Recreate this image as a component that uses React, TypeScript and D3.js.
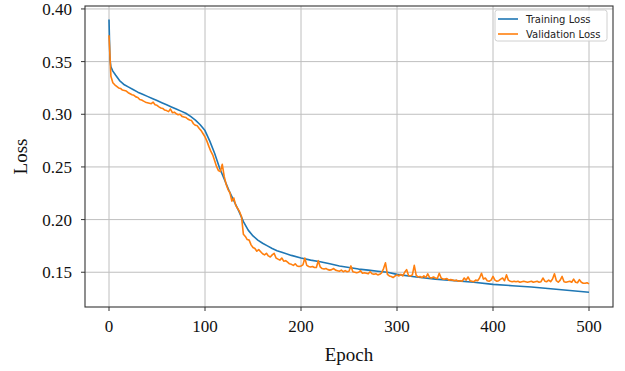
import React from 'react';
import * as d3 from 'd3';

// training loss
const trainEpochs = [0, 1, 2, 4, 7, 11, 16, 20, 25, 30, 35, 40, 45, 50, 55, 60, 65, 70, 75, 80, 85, 90, 95, 100,
  105, 110, 115, 120, 125, 130, 135, 140, 145, 150, 155, 160, 165, 170, 175, 180, 190, 200, 210, 220, 230, 240,
  250, 260, 270, 280, 290, 300, 320, 340, 360, 380, 400, 420, 440, 460, 480, 500];
const trainLoss = [0.390, 0.352, 0.345, 0.341, 0.337, 0.332, 0.328, 0.326, 0.3235, 0.321, 0.319, 0.317, 0.315,
  0.313, 0.311, 0.309, 0.307, 0.305, 0.303, 0.301, 0.298, 0.2945, 0.290, 0.2845, 0.2745, 0.263, 0.2495, 0.2385,
  0.2275, 0.218, 0.2085, 0.198, 0.190, 0.1845, 0.1805, 0.1775, 0.175, 0.1725, 0.1705, 0.169, 0.166, 0.1635,
  0.1615, 0.160, 0.158, 0.156, 0.1545, 0.153, 0.152, 0.151, 0.150, 0.148, 0.1455, 0.1435, 0.142, 0.1405,
  0.1385, 0.1372, 0.136, 0.1343, 0.1327, 0.131];

// validation loss, one value every 2 epochs (0..500)
const valStep = 2;
const valLoss = [
  0.375, 0.336, 0.330, 0.328, 0.3265, 0.325, 0.3245, 0.323, 0.3225, 0.322,
  0.3205, 0.3195, 0.3185, 0.318, 0.3165, 0.316, 0.314, 0.3135, 0.3125, 0.3115,
  0.311, 0.3105, 0.310, 0.3115, 0.309, 0.3085, 0.307, 0.306, 0.3055, 0.304,
  0.3035, 0.3025, 0.305, 0.3015, 0.302, 0.3005, 0.2995, 0.300, 0.298, 0.2975,
  0.297, 0.2955, 0.2945, 0.294, 0.291, 0.2895, 0.289, 0.2865, 0.2845, 0.2815,
  0.2785, 0.2745, 0.2695, 0.265, 0.2615, 0.256, 0.2505, 0.2465, 0.2455, 0.2525,
  0.241, 0.2335, 0.2285, 0.2255, 0.2175, 0.2205, 0.2135, 0.2105, 0.2075, 0.203,
  0.186, 0.184, 0.181, 0.1805, 0.176, 0.1735, 0.1725, 0.170, 0.1715, 0.1695,
  0.1675, 0.1665, 0.168, 0.1655, 0.1645, 0.1665, 0.168, 0.1635, 0.1625, 0.1615,
  0.1635, 0.1605, 0.161, 0.1595, 0.158, 0.1575, 0.1565, 0.158, 0.156, 0.1555,
  0.156, 0.157, 0.1635, 0.1565, 0.1555, 0.155, 0.1555, 0.1545, 0.1545, 0.161,
  0.155, 0.1535, 0.153, 0.1535, 0.1525, 0.152, 0.1525, 0.1535, 0.152, 0.1515,
  0.151, 0.152, 0.1505, 0.1515, 0.1505, 0.151, 0.156, 0.1505, 0.150, 0.1495,
  0.150, 0.1515, 0.149, 0.1495, 0.149, 0.1485, 0.1505, 0.1485, 0.148, 0.1485,
  0.1475, 0.148, 0.1495, 0.1535, 0.159, 0.148, 0.1465, 0.146, 0.145, 0.1465,
  0.1475, 0.1465, 0.148, 0.1465, 0.150, 0.1525, 0.147, 0.1465, 0.1475, 0.1565,
  0.147, 0.1455, 0.146, 0.145, 0.1465, 0.145, 0.1485, 0.145, 0.1445, 0.1455,
  0.1445, 0.144, 0.149, 0.1445, 0.1435, 0.1435, 0.144, 0.1425, 0.143, 0.1425,
  0.142, 0.1425, 0.1415, 0.142, 0.1415, 0.1445, 0.1425, 0.1455, 0.142, 0.1415,
  0.141, 0.1425, 0.142, 0.1445, 0.149, 0.1435, 0.1445, 0.142, 0.1415, 0.1425,
  0.146, 0.1425, 0.1415, 0.142, 0.1435, 0.1445, 0.142, 0.1475, 0.1425, 0.1415,
  0.141, 0.1415, 0.141, 0.1415, 0.1405, 0.141, 0.1415, 0.141, 0.1405, 0.141,
  0.1415, 0.1405, 0.141, 0.1415, 0.1405, 0.141, 0.1445, 0.1415, 0.141, 0.1425,
  0.141, 0.1435, 0.1485, 0.142, 0.1405, 0.1425, 0.146, 0.141, 0.1405, 0.141,
  0.1415, 0.1405, 0.1435, 0.1405, 0.140, 0.143, 0.1405, 0.1395, 0.1395, 0.140,
  0.139,
];

const xTicks = [0, 100, 200, 300, 400, 500];
const yTicks = [0.15, 0.20, 0.25, 0.30, 0.35, 0.40];
const seriesNames = ['Training Loss', 'Validation Loss'];
const colors = ['#1f77b4', '#ff7f0e'];

const W = 625;
const H = 371;
const left = 85, right = 613, top = 6, bottom = 307;
const serif = '"Liberation Serif", "Times New Roman", serif';
const sans = '"DejaVu Sans", sans-serif';

export default function App() {
  const x = d3.scaleLinear().domain([-25, 525]).range([left, right]);
  const y = d3.scaleLinear().domain([0.117, 0.4028]).range([bottom, top]);

  const line = d3.line<[number, number]>()
    .x((d) => x(d[0]))
    .y((d) => y(d[1]));

  const train: [number, number][] = trainEpochs.map((e, i) => [e, trainLoss[i]]);
  const val: [number, number][] = valLoss.map((v, i) => [i * valStep, v]);

  const fmt = d3.format('.2f');

  return (
    <svg width={W} height={H} style={{ position: 'absolute', left: 0, top: 0, background: '#fff' }}>
      <rect x={0} y={0} width={W} height={H} fill="#fff" />
      <defs>
        <clipPath id="plot">
          <rect x={left} y={top} width={right - left} height={bottom - top} />
        </clipPath>
      </defs>

      {/* grid */}
      <g stroke="#b0b0b0" strokeWidth={1} opacity={0.8}>
        {xTicks.map((t) => (
          <line key={'gx' + t} x1={x(t)} x2={x(t)} y1={top} y2={bottom} />
        ))}
        {yTicks.map((t) => (
          <line key={'gy' + t} x1={left} x2={right} y1={y(t)} y2={y(t)} />
        ))}
      </g>

      <g clipPath="url(#plot)" fill="none" strokeWidth={1.6} strokeLinejoin="round">
        <path d={line(train) || ''} stroke={colors[0]} />
        <path d={line(val) || ''} stroke={colors[1]} />
      </g>

      {/* spines */}
      <rect x={left} y={top} width={right - left} height={bottom - top} fill="none" stroke="#333" strokeWidth={1.1} />

      {/* x axis */}
      {xTicks.map((t) => (
        <g key={'xt' + t}>
          <line x1={x(t)} x2={x(t)} y1={bottom} y2={bottom + 4} stroke="#333" strokeWidth={1} />
          <text x={x(t)} y={332} textAnchor="middle" fontFamily={serif} fontSize={17} fill="#111">
            {t}
          </text>
        </g>
      ))}
      {/* y axis */}
      {yTicks.map((t) => (
        <g key={'yt' + t}>
          <line x1={left - 4} x2={left} y1={y(t)} y2={y(t)} stroke="#333" strokeWidth={1} />
          <text x={72} y={y(t) + 6} textAnchor="end" fontFamily={serif} fontSize={17} fill="#111">
            {fmt(t)}
          </text>
        </g>
      ))}

      <text x={(left + right) / 2} y={361} textAnchor="middle" fontFamily={serif} fontSize={19} fill="#111">
        Epoch
      </text>
      <text
        transform={`translate(27, ${(top + bottom) / 2}) rotate(-90)`}
        textAnchor="middle"
        fontFamily={serif}
        fontSize={19}
        fill="#111"
      >
        Loss
      </text>

      {/* legend */}
      <g>
        <rect x={495} y={10} width={112} height={31} rx={2.5} fill="#fff" fillOpacity={0.8} stroke="#d0d0d0" strokeWidth={1} />
        {seriesNames.map((name, i) => (
          <g key={name}>
            <line x1={498} x2={518} y1={19 + i * 15} y2={19 + i * 15} stroke={colors[i]} strokeWidth={1.6} />
            <text x={526} y={22.5 + i * 15} fontFamily={sans} fontSize={10} fill="#222">
              {name}
            </text>
          </g>
        ))}
      </g>
    </svg>
  );
}
